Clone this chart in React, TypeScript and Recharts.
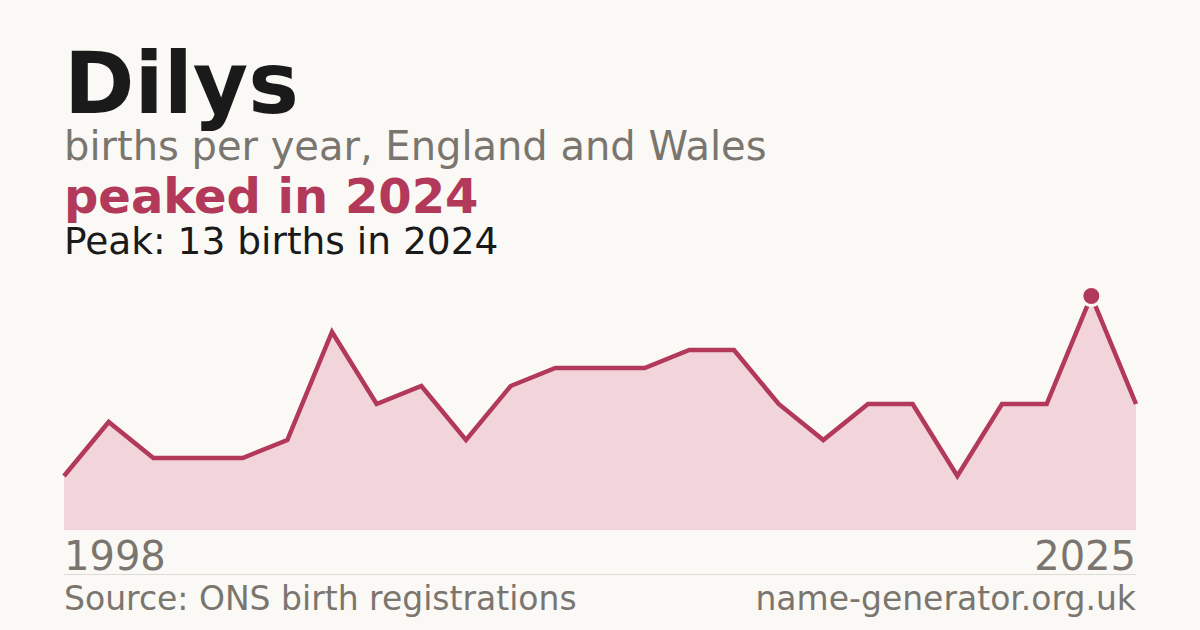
import { AreaChart, Area, XAxis, YAxis, ReferenceDot } from 'recharts';

// births per year (years with too few registrations are not published)
const years = [
  1998, 1999, 2000, 2002, 2003, 2004, 2005, 2007, 2008, 2009, 2010, 2011, 2012,
  2014, 2015, 2016, 2017, 2018, 2019, 2020, 2021, 2022, 2023, 2024, 2025,
];
const births = [3, 6, 4, 4, 4, 5, 11, 7, 8, 5, 8, 9, 9, 9, 10, 10, 7, 5, 7, 7, 3, 7, 7, 13, 7];
const peakYear = 2024;
const peakBirths = 13;

const BG = '#faf9f5';
const RED = '#b3395a';
const GREY = '#7a766f';
const FONT = '"DejaVu Sans", sans-serif';

const data = years.map((year, i) => ({ year, births: births[i] }));
const firstYear = years[0];
const lastYear = years[years.length - 1];

// eslint-disable-next-line @typescript-eslint/no-explicit-any
function YearTick(props: any) {
  const { x, y, payload } = props;
  const isFirst = payload.value === firstYear;
  return (
    <text x={x} y={y + 40} textAnchor={isFirst ? 'start' : 'end'} fill={GREY} fontSize={40} fontFamily={FONT}>
      {payload.value}
    </text>
  );
}

export default function App() {
  return (
    <div style={{ position: 'absolute', top: 0, left: 0, width: 1200, height: 630, background: BG, overflow: 'hidden' }}>
      <AreaChart width={1200} height={630} data={data} margin={{ top: 296, right: 64, bottom: 60, left: 64 }}>
        <XAxis
          dataKey="year"
          ticks={[firstYear, lastYear]}
          interval={0}
          height={40}
          axisLine={false}
          tickLine={false}
          tickSize={0}
          tickMargin={0}
          tick={<YearTick />}
        />
        <YAxis hide domain={[0, peakBirths]} />
        <Area
          type="linear"
          dataKey="births"
          stroke={RED}
          strokeWidth={4.5}
          fill="#f2d5da"
          fillOpacity={1}
          dot={false}
          activeDot={false}
          isAnimationActive={false}
        />
        <ReferenceDot x={peakYear} y={peakBirths} r={9.5} fill={RED} stroke={BG} strokeWidth={3} />
      </AreaChart>

      <svg width={1200} height={630} style={{ position: 'absolute', top: 0, left: 0, pointerEvents: 'none' }} fontFamily={FONT}>
        <text x={64} y={113} fontSize={85} fontWeight="bold" fill="#1a1a1a">Dilys</text>
        <text x={64} y={160} fontSize={40} fill={GREY}>births per year, England and Wales</text>
        <text x={64} y={213} fontSize={48} fontWeight="bold" fill={RED}>peaked in {peakYear}</text>
        <text x={64} y={254} fontSize={37.5} fill="#1a1a1a">Peak: {peakBirths} births in {peakYear}</text>
        <line x1={64} x2={1136} y1={574.5} y2={574.5} stroke="#dedbd4" strokeWidth={1} />
        <text x={64} y={610} fontSize={33} fill={GREY}>Source: ONS birth registrations</text>
        <text x={1136} y={610} fontSize={33} fill={GREY} textAnchor="end">name-generator.org.uk</text>
      </svg>
    </div>
  );
}
